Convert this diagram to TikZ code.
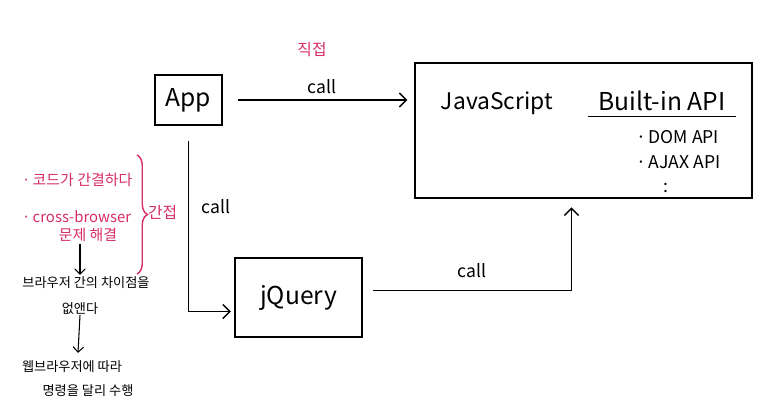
\documentclass[tikz,border=0pt]{standalone}
\usepackage{fontspec}
\setmainfont{Noto Sans CJK KR}
\usetikzlibrary{arrows.meta,calc,decorations.pathreplacing}
\definecolor{pinkink}{RGB}{214,44,104}
\newcommand{\dotitem}{·\hspace{0.15em}}

\begin{document}
\begin{tikzpicture}[x=0.02cm,y=-0.02cm,
    box/.style={draw, thick, inner sep=0pt},
    callarrow/.style={thick, -{Straight Barb[length=4pt,width=8pt]}},
    big/.style={font=\fontsize{14}{16}\selectfont},
    mid/.style={font=\fontsize{10}{12}\selectfont},
    note/.style={font=\fontsize{7.5}{9}\selectfont, inner sep=1pt},
    pinknote/.style={note, font=\fontsize{8.5}{10}\selectfont, text=pinkink}]
  \useasboundingbox (0,0) rectangle (765,416);

  % boxes
  \node[box, minimum width=1.34cm, minimum height=1cm, big] (app) at (188.5,100) {App};
  \node[box, minimum width=6.74cm, minimum height=2.7cm] (js) at (583.5,130.5) {};
  \node[box, minimum width=2.54cm, minimum height=1.58cm, big] (jq) at (298.5,297.5) {jQuery};

  % inside the JavaScript box
  \node[font=\fontsize{13}{15}\selectfont] (jsname) at (497,103) {JavaScript};
  \node[font=\fontsize{14}{16}\selectfont, inner xsep=6pt, inner ysep=3pt] (builtin) at (662,101) {Built-in API};
  \draw[thick] (builtin.south west) -- (builtin.south east);
  \node[mid, anchor=west] (dom) at (630,137) {\dotitem DOM API};
  \node[mid, anchor=west] (ajax) at (630,162) {\dotitem AJAX API};
  \node[mid] (more) at (666,188) {:};

  % calls
  \draw[callarrow, shorten <=8.5pt, shorten >=4pt] (app.east) -- (app.east -| js.west);
  \node[mid] (call1) at (322,87) {call};
  \node[note, font=\fontsize{9}{10}\selectfont, text=pinkink] (direct) at (312,50) {직접};

  \draw[callarrow, shorten <=8.5pt, shorten >=2pt] (app.south) |- ($(jq.west)+(0,14)$);
  \node[mid] (call2) at (216,207) {call};

  \draw[callarrow, shorten <=5.7pt, shorten >=5pt] ($(jq.east)+(0,-7)$) -| ($(js.south)+(-12,0)$);
  \node[mid] (call3) at (472,271) {call};

  % notes on the left
  \node[pinknote, anchor=west] (concise) at (20,180) {\dotitem 코드가 간결하다};
  \node[pinknote, anchor=west] (cross) at (20,217) {\dotitem cross-browser};
  \node[pinknote] (fix) at (88,235) {문제 해결};
  \draw[pinkink, thick, decorate, decoration={brace, amplitude=6pt}] (137,155) -- (137,274);
  \node[pinknote, font=\fontsize{9}{10}\selectfont, anchor=west] (indirect) at (146,212) {간접};

  \node[note] (diff1) at (86,283) {브라우저 간의 차이점을};
  \node[note] (diff2) at (80,309) {없앤다};
  \node[note] (run1) at (72,367) {웹브라우저에 따라};
  \node[note] (run2) at (88,391) {명령을 달리 수행};
  \draw[semithick, -{Straight Barb[length=3pt,width=6pt]}] (fix.south -| diff2.north) -- (diff2.north |- diff1.north);
  \draw[semithick, -{Straight Barb[length=3pt,width=6pt]}] (diff2.south) ++(0,-2) -- ($(run1.north)+(6,-6)$);
\end{tikzpicture}
\end{document}
